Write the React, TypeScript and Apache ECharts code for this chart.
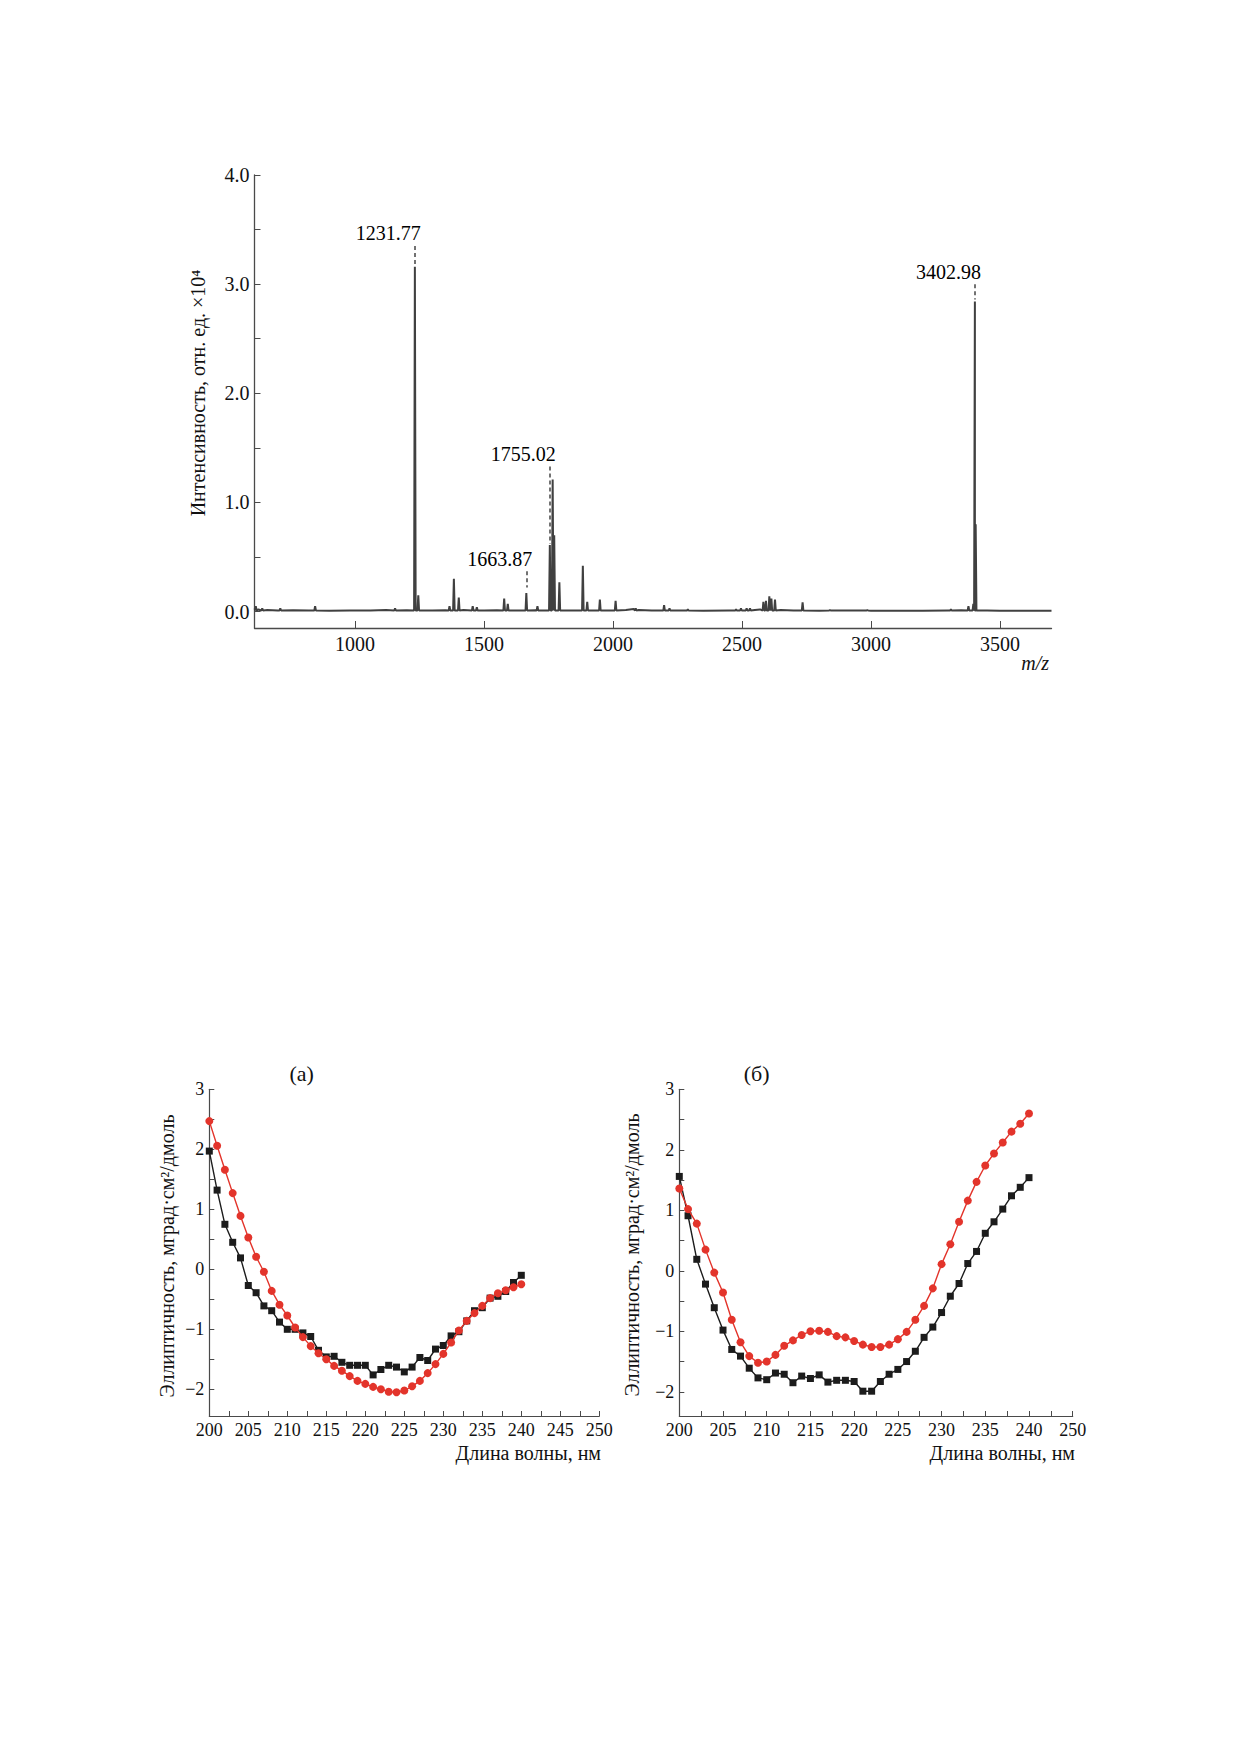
import { useEffect, useRef } from 'react'
import * as echarts from 'echarts'

// ---- mass spectrum (top) ----
const peakMz = [615, 640, 710, 845, 1155, 1231.77, 1245, 1366, 1383, 1402, 1456, 1472, 1578, 1592, 1663.87, 1707,
  1755.02, 1766, 1772, 1792, 1883, 1900, 1949, 2010, 2088, 2198, 2219, 2290, 2477, 2496, 2518, 2531,
  2583, 2593, 2606, 2614, 2628, 2735, 2841, 2986, 3310, 3378, 3397, 3402.98, 3406]
const peakInt = [0.05, 0.03, 0.03, 0.05, 0.03, 3.16, 0.15, 0.05, 0.30, 0.13, 0.05, 0.04, 0.12, 0.07, 0.17, 0.05,
  0.61, 1.21, 0.70, 0.27, 0.42, 0.09, 0.11, 0.10, 0.03, 0.06, 0.03, 0.02, 0.02, 0.03, 0.03, 0.03,
  0.09, 0.10, 0.14, 0.12, 0.11, 0.085, 0.015, 0.015, 0.02, 0.05, 0.07, 2.84, 0.80]
const baseMz = [611, 625, 660, 700, 760, 820, 900, 980, 1060, 1120, 1200, 1300, 1350, 1420, 1500, 1550, 1640,
  1700, 1850, 1980, 2050, 2080, 2100, 2150, 2250, 2350, 2450, 2550, 2570, 2650, 2700, 2800, 2900, 3000,
  3100, 3200, 3300, 3350, 3450, 3500, 3600, 3700]
const baseInt = [0.03, 0.02, 0.015, 0.01, 0.012, 0.01, 0.008, 0.01, 0.01, 0.015, 0.012, 0.01, 0.012, 0.015, 0.01,
  0.012, 0.01, 0.012, 0.01, 0.01, 0.015, 0.025, 0.015, 0.01, 0.01, 0.008, 0.01, 0.015, 0.02, 0.015, 0.01,
  0.008, 0.01, 0.008, 0.008, 0.008, 0.01, 0.012, 0.01, 0.008, 0.008, 0.008]
const labelMz = [1231.77, 1663.87, 1755.02, 3402.98]
const labelText = ['1231.77', '1663.87', '1755.02', '3402.98']
const dashTop = [3.35, 0.37, 1.33, 3.0]
const dashBottom = [3.18, 0.22, 0.62, 2.86]
const mzTicks = [1000, 1500, 2000, 2500, 3000, 3500]
const intLabels = [0, 1, 2, 3, 4]
const intTicks = [0, 0.5, 1, 1.5, 2, 2.5, 3, 3.5, 4]

// ---- CD spectra (bottom) ----
const wavelength = [200, 201, 202, 203, 204, 205, 206, 207, 208, 209, 210, 211, 212, 213, 214, 215, 216, 217, 218, 219,
  220, 221, 222, 223, 224, 225, 226, 227, 228, 229, 230, 231, 232, 233, 234, 235, 236, 237, 238, 239, 240]
const aSquares = [1.97, 1.32, 0.75, 0.45, 0.19, -0.27, -0.39, -0.61, -0.69, -0.88, -1.00, -1.00, -1.06, -1.12, -1.35,
  -1.46, -1.45, -1.55, -1.60, -1.60, -1.60, -1.76, -1.67, -1.60, -1.63, -1.71, -1.63, -1.47, -1.52, -1.33, -1.27,
  -1.11, -1.04, -0.86, -0.69, -0.64, -0.48, -0.45, -0.37, -0.22, -0.10]
const aCircles = [2.47, 2.06, 1.66, 1.27, 0.89, 0.53, 0.21, -0.04, -0.36, -0.59, -0.77, -0.97, -1.13, -1.28, -1.40,
  -1.50, -1.61, -1.69, -1.78, -1.86, -1.91, -1.96, -2.00, -2.04, -2.05, -2.02, -1.95, -1.86, -1.73, -1.58, -1.41,
  -1.22, -1.02, -0.86, -0.73, -0.61, -0.48, -0.40, -0.35, -0.30, -0.25]
const bSquares = [1.56, 0.91, 0.19, -0.22, -0.61, -0.98, -1.30, -1.41, -1.61, -1.77, -1.80, -1.69, -1.71, -1.85, -1.74,
  -1.78, -1.72, -1.84, -1.81, -1.81, -1.83, -1.99, -1.99, -1.83, -1.71, -1.63, -1.50, -1.33, -1.10, -0.93, -0.69,
  -0.42, -0.21, 0.12, 0.32, 0.62, 0.81, 1.02, 1.24, 1.38, 1.54]
const bCircles = [1.36, 1.02, 0.78, 0.35, -0.03, -0.36, -0.81, -1.18, -1.41, -1.52, -1.50, -1.39, -1.24, -1.15, -1.06,
  -1.00, -0.99, -1.01, -1.08, -1.10, -1.16, -1.22, -1.26, -1.26, -1.22, -1.13, -1.01, -0.81, -0.58, -0.29, 0.11,
  0.44, 0.81, 1.16, 1.47, 1.74, 1.94, 2.12, 2.30, 2.43, 2.60]
const waveLabelsA = [200, 205, 210, 215, 220, 225, 230, 235, 240, 245, 250]
const waveTicksA = [200, 202.5, 205, 207.5, 210, 212.5, 215, 217.5, 220, 222.5, 225, 227.5, 230, 232.5, 235, 237.5,
  240, 242.5, 245, 247.5, 250]
// the right panel's axis ends at 245 but is labelled "250" in the original
const waveLabelsB = [200, 205, 210, 215, 220, 225, 230, 235, 240, 245]
const waveTicksB = [200, 202.5, 205, 207.5, 210, 212.5, 215, 217.5, 220, 222.5, 225, 227.5, 230, 232.5, 235, 237.5,
  240, 242.5, 245]
const cdLabels = [-2, -1, 0, 1, 2, 3]
const cdTicks = [-2, -1.5, -1, -0.5, 0, 0.5, 1, 1.5, 2, 2.5, 3]

const FONT = "'Liberation Serif', 'Times New Roman', serif"
const TEXT = '#111111'
const AXIS = '#4a4a4a'
const RED = '#e3342b'
const BLACK = '#1c1c1c'
const PEAK_HALF = 3
const BASE = 0.01

const minus = (v: number) => (v < 0 ? '\u2212' + Math.abs(v) : String(v))

function cdXAxis(index: number, min: number, max: number, labels: number[], ticks: number[], fmt: (v: number) => string) {
  return {
    type: 'value', gridIndex: index, min, max,
    axisLine: { onZero: false, lineStyle: { color: AXIS, width: 1.2 } },
    axisTick: { inside: true, length: 5, customValues: ticks, lineStyle: { color: AXIS } },
    axisLabel: { customValues: labels, formatter: fmt, color: TEXT, fontSize: 18, fontFamily: FONT, margin: 5 },
    splitLine: { show: false },
  }
}

function cdYAxis(index: number, min: number) {
  return {
    type: 'value', gridIndex: index, min, max: 3,
    axisLine: { onZero: false, lineStyle: { color: AXIS, width: 1.2 } },
    axisTick: { inside: true, length: 5, customValues: cdTicks, lineStyle: { color: AXIS } },
    axisLabel: { customValues: cdLabels, formatter: minus, color: TEXT, fontSize: 18, fontFamily: FONT, margin: 5 },
    splitLine: { show: false },
  }
}

function cdSeries(index: number, values: number[], square: boolean) {
  return {
    type: 'line', xAxisIndex: index, yAxisIndex: index,
    data: wavelength.map((w, i) => [w, values[i]]),
    symbol: square ? 'rect' : 'circle',
    symbolSize: square ? 7 : 8,
    showAllSymbol: true,
    itemStyle: { color: square ? BLACK : RED },
    lineStyle: { color: square ? BLACK : RED, width: 1.4 },
    z: square ? 2 : 3,
  }
}

export default function App() {
  const ref = useRef<HTMLDivElement>(null)

  useEffect(() => {
    if (!ref.current) return
    const chart = echarts.init(ref.current, null, { renderer: 'svg' })

    const spectrum = [
      ...baseMz.map((m, i) => [m, baseInt[i]]),
      ...peakMz.flatMap((m, i) => [[m - PEAK_HALF, BASE], [m, peakInt[i]], [m + PEAK_HALF, BASE]]),
    ].sort((a, b) => a[0] - b[0])

    const title = (text: string, x: number, y: number, extra: any = {}) => ({
      type: 'text', x, y,
      style: { text, fill: TEXT, fontSize: 20, fontFamily: FONT, align: 'center', verticalAlign: 'middle', ...extra.style },
      ...extra.el,
    })

    chart.setOption({
      animation: false,
      backgroundColor: '#ffffff',
      textStyle: { fontFamily: FONT },
      grid: [
        { left: 254.5, top: 175, width: 797, height: 453 },
        { left: 209.3, top: 1089.3, width: 390, height: 326.7 },
        { left: 679.3, top: 1089.3, width: 393.4, height: 326.7 },
      ],
      xAxis: [
        {
          type: 'value', gridIndex: 0, min: 610, max: 3700,
          axisLine: { onZero: false, lineStyle: { color: AXIS, width: 1.3 } },
          axisTick: { inside: true, length: 7, customValues: mzTicks, lineStyle: { color: AXIS } },
          axisLabel: { customValues: mzTicks, formatter: (v: number) => String(v), color: TEXT, fontSize: 20, fontFamily: FONT, margin: 6 },
          splitLine: { show: false },
        },
        cdXAxis(1, 200, 250, waveLabelsA, waveTicksA, v => String(v)),
        cdXAxis(2, 200, 245, waveLabelsB, waveTicksB, v => (v === 245 ? '250' : String(v))),
      ],
      yAxis: [
        {
          type: 'value', gridIndex: 0, min: -0.15, max: 4,
          axisLine: { onZero: false, lineStyle: { color: AXIS, width: 1.3 } },
          axisTick: { inside: true, length: 6, customValues: intTicks, lineStyle: { color: AXIS } },
          axisLabel: { customValues: intLabels, formatter: (v: number) => v.toFixed(1), color: TEXT, fontSize: 20, fontFamily: FONT, margin: 5 },
          splitLine: { show: false },
        },
        cdYAxis(1, -2.445),
        cdYAxis(2, -2.40),
      ],
      series: [
        {
          type: 'line', xAxisIndex: 0, yAxisIndex: 0,
          data: spectrum, showSymbol: false,
          lineStyle: { color: '#404040', width: 2 },
        },
        {
          type: 'scatter', xAxisIndex: 0, yAxisIndex: 0,
          data: labelMz.map((m, i) => [m, dashTop[i]]),
          symbolSize: 1,
          itemStyle: { color: 'rgba(0,0,0,0)' },
          label: {
            show: true, position: 'top', distance: 2, align: 'right', offset: [6, 0],
            formatter: (p: any) => labelText[p.dataIndex],
            color: '#000000', opacity: 1, fontSize: 20, fontFamily: FONT,
          },
          markLine: {
            silent: true, symbol: ['none', 'none'],
            label: { show: false },
            lineStyle: { color: '#444', width: 1.5, type: [4, 3] },
            data: labelMz.map((m, i) => [{ coord: [m, dashTop[i]] }, { coord: [m, dashBottom[i]] }]),
          },
        },
        cdSeries(1, aSquares, true),
        cdSeries(1, aCircles, false),
        cdSeries(2, bSquares, true),
        cdSeries(2, bCircles, false),
      ],
      graphic: [
        title('Интенсивность, отн. ед. ×10⁴', 198, 393, { el: { rotation: Math.PI / 2 } }),
        title('m/z', 1049, 663, { style: { align: 'right', fontStyle: 'italic' } }),
        title('(а)', 301.7, 1073, { style: { fontSize: 22 } }),
        title('(б)', 756.7, 1073, { style: { fontSize: 22 } }),
        title('Длина волны, нм', 601, 1453, { style: { align: 'right' } }),
        title('Длина волны, нм', 1075, 1453, { style: { align: 'right' } }),
        title('Эллиптичность, мград·см²/дмоль', 166.7, 1256, { el: { rotation: Math.PI / 2 } }),
        title('Эллиптичность, мград·см²/дмоль', 631.7, 1255, { el: { rotation: Math.PI / 2 } }),
      ],
    })

    return () => chart.dispose()
  }, [])

  return (
    <div
      ref={ref}
      style={{ position: 'absolute', left: 0, top: 0, width: 1240, height: 1754, background: '#fff' }}
    />
  )
}
